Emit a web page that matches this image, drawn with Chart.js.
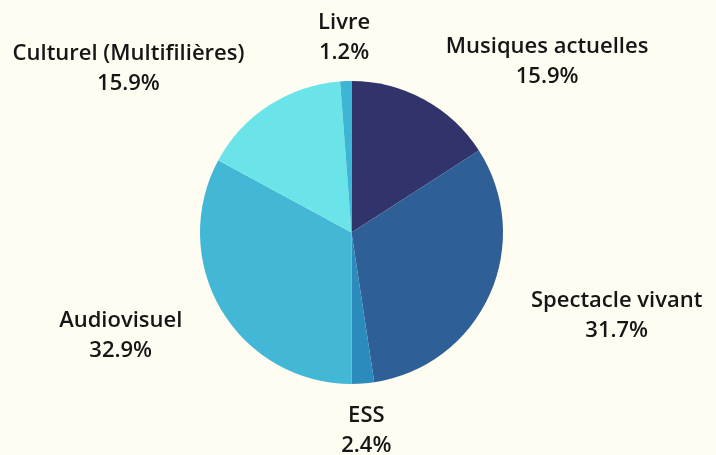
<!DOCTYPE html>
<html lang="fr">
<head>
<meta charset="UTF-8" />
<title>Répartition par filière</title>
<style>
  html, body {
    margin: 0;
    padding: 0;
    background: #fffcf2;
  }
  #wrap {
    width: 716px;
    height: 455px;
  }
</style>
</head>
<body>
  <div id="wrap"><canvas id="pieChart"></canvas></div>

<script src="https://cdn.jsdelivr.net/npm/chart.js"></script>
<script>
  // Data
  const labels = ['Musiques actuelles', 'Spectacle vivant', 'ESS', 'Audiovisuel', 'Culturel (Multifilières)', 'Livre'];
  const shares = [15.9, 31.7, 2.4, 32.9, 15.9, 1.2];
  const colors = ['#31346a', '#2f5f97', '#2b8bbd', '#43b7d6', '#6be4e9', '#3db5d5'];

  // Labels outside the pie: name + percentage, centred inside their block
  const outsideLabels = {
    id: 'outsideLabels',
    afterDatasetsDraw(chart) {
      const ctx = chart.ctx;
      const arcs = chart.getDatasetMeta(0).data;
      ctx.save();
      ctx.font = '600 22px "Open Sans", sans-serif';
      ctx.fillStyle = '#161616';
      ctx.textBaseline = 'middle';
      ctx.textAlign = 'center';
      arcs.forEach((arc, i) => {
        const mid = (arc.startAngle + arc.endAngle) / 2;
        const dist = arc.outerRadius * 1.3;
        const x = arc.x + Math.cos(mid) * dist;
        const y = arc.y + Math.sin(mid) * dist;
        const c = Math.cos(mid);
        const line2 = shares[i].toFixed(1) + '%';
        const w = Math.max(ctx.measureText(labels[i]).width, ctx.measureText(line2).width);
        let cx = x;
        if (c > 0.25) cx = x + w / 2;
        else if (c < -0.25) cx = x - w / 2;
        ctx.fillText(labels[i], cx, y - 13);
        ctx.fillText(line2, cx, y + 17);
      });
      ctx.restore();
    }
  };

  const ctx = document.getElementById('pieChart').getContext('2d');
  const pieChart = new Chart(ctx, {
    type: 'pie',
    data: {
      labels: labels,
      datasets: [{
        data: shares,
        backgroundColor: colors,
        borderWidth: 0
      }]
    },
    options: {
      responsive: true,
      maintainAspectRatio: false,
      animation: false,
      layout: {
        padding: { top: 81, bottom: 71, left: 100, right: 113 }
      },
      plugins: {
        legend: { display: false },
        tooltip: { enabled: false }
      }
    },
    plugins: [outsideLabels]
  });
</script>
</body>
</html>
